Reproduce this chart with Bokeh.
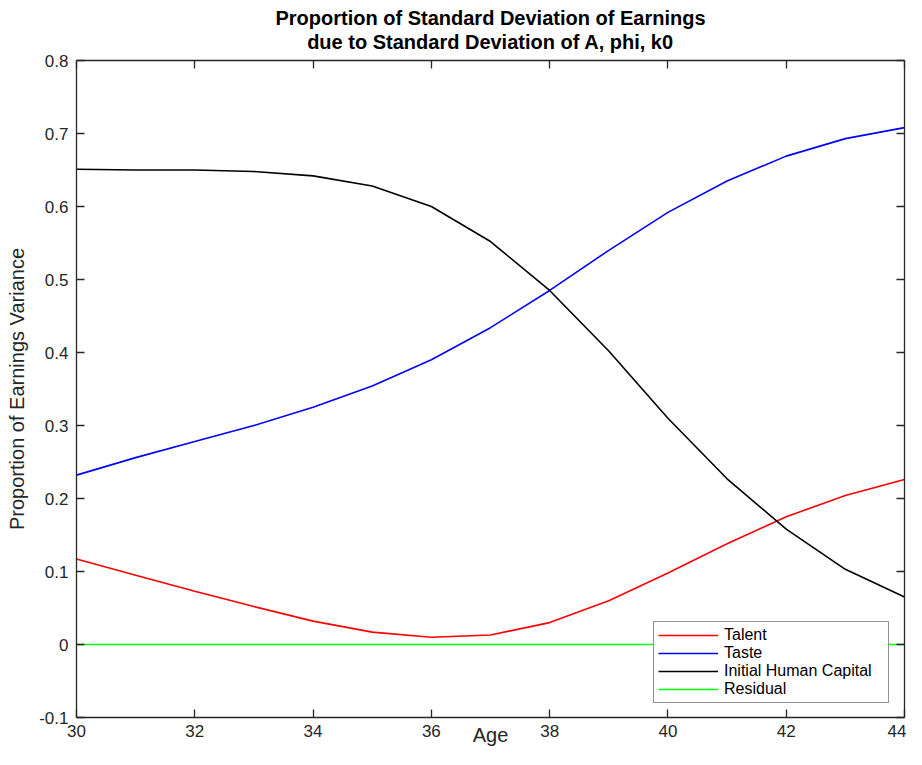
from bokeh.plotting import figure
from bokeh.models import (Range1d, FixedTicker, LinearAxis, Legend, LegendItem, Title,
                          CustomJSTickFormatter, ColumnDataSource)
from bokeh.embed import file_html
from bokeh.resources import INLINE

# ---- data ----
age = [30, 31, 32, 33, 34, 35, 36, 37, 38, 39, 40, 41, 42, 43, 44]
talent = [0.117, 0.095, 0.073, 0.052, 0.032, 0.017, 0.010, 0.013, 0.030, 0.060,
          0.098, 0.138, 0.175, 0.204, 0.226]
taste = [0.232, 0.256, 0.278, 0.300, 0.325, 0.354, 0.390, 0.434, 0.485, 0.540,
         0.592, 0.635, 0.669, 0.693, 0.708]
human_capital = [0.651, 0.650, 0.650, 0.648, 0.642, 0.628, 0.600, 0.552, 0.485, 0.402,
                 0.310, 0.227, 0.158, 0.103, 0.065]
residual = [0.0] * 15

x_ticks = [30, 32, 34, 36, 38, 40, 42, 44]
y_ticks = [-0.1, 0.0, 0.1, 0.2, 0.3, 0.4, 0.5, 0.6, 0.7, 0.8]
title_lines = ["Proportion of Standard Deviation of Earnings",
               "due to Standard Deviation of A, phi, k0"]
x_label = "Age"
y_label = "Proportion of Earnings Variance"
series_names = ["Talent", "Taste", "Initial Human Capital", "Residual"]
series_colors = ["#ff0000", "#0000ff", "#000000", "#00ff00"]

FONT = "Liberation Sans"
AXC = "#262626"

p = figure(width=906, height=749, output_backend="svg", toolbar_location=None,
           title=None,
           x_range=Range1d(30, 44), y_range=Range1d(-0.1, 0.8),
           min_border_left=76, min_border_right=2, min_border_top=60, min_border_bottom=32)
p.background_fill_color = "white"
p.border_fill_color = "white"
p.outline_line_color = None
p.xgrid.visible = False
p.ygrid.visible = False

fmt = CustomJSTickFormatter(code="return (Math.abs(tick) < 1e-9) ? '0' : (Number.isInteger(tick) ? tick.toString() : tick.toFixed(1));")

xa = p.xaxis[0]
ya = p.yaxis[0]
for ax, ticks in ((xa, x_ticks), (ya, y_ticks)):
    ax.ticker = FixedTicker(ticks=ticks)
    ax.formatter = fmt
    ax.major_tick_in = 8
    ax.major_tick_out = 0
    ax.minor_tick_in = 0
    ax.minor_tick_out = 0
    ax.axis_line_color = AXC
    ax.axis_line_width = 1.3
    ax.major_tick_line_color = AXC
    ax.major_tick_line_width = 1.3
    ax.major_label_text_font = FONT
    ax.major_label_text_font_size = "17px"
    ax.major_label_text_color = AXC
    ax.axis_label_text_font = FONT
    ax.axis_label_text_font_size = "20px"
    ax.axis_label_text_font_style = "normal"
    ax.axis_label_text_color = AXC
xa.major_label_standoff = 7
ya.major_label_standoff = 8
ya.axis_label = y_label
ya.axis_label_standoff = 8
xa.axis_label = x_label
xa.axis_label_standoff = -16

# mirrored axes (box)
for loc, ticks in (("above", x_ticks), ("right", y_ticks)):
    ax = LinearAxis(ticker=FixedTicker(ticks=ticks), major_tick_in=8, major_tick_out=0,
                    minor_tick_in=0, minor_tick_out=0, axis_line_color=AXC,
                    axis_line_width=1.3, major_tick_line_color=AXC, major_tick_line_width=1.3,
                    major_label_text_font_size="0px", major_label_text_alpha=0,
                    major_label_standoff=0)
    p.add_layout(ax, loc)

# title, two centered lines
p.add_layout(Title(text=title_lines[1], align="center", text_font=FONT, text_font_size="20px",
                   text_font_style="bold", text_color="black", standoff=16), "above")
p.add_layout(Title(text=title_lines[0], align="center", text_font=FONT, text_font_size="20px",
                   text_font_style="bold", text_color="black", standoff=-17), "above")

src = ColumnDataSource(dict(age=age, talent=talent, taste=taste,
                            hc=human_capital, res=residual))
renderers = []
for col, c in zip(["talent", "taste", "hc", "res"], series_colors):
    r = p.line("age", col, source=src, line_color=c, line_width=1.6)
    renderers.append(r)

legend = Legend(items=[LegendItem(label=n, renderers=[r]) for n, r in zip(series_names, renderers)],
                location=(577, 14), orientation="vertical",
                padding=4, spacing=0, margin=0,
                glyph_width=60, glyph_height=16, label_height=16, label_width=160,
                label_standoff=6,
                label_text_font=FONT, label_text_font_size="16px", label_text_color="black",
                label_text_baseline="middle",
                border_line_color=AXC, border_line_width=1.3,
                background_fill_color="white", background_fill_alpha=1.0)
p.add_layout(legend, "center")

open("out.html", "w").write(file_html(p, INLINE))
